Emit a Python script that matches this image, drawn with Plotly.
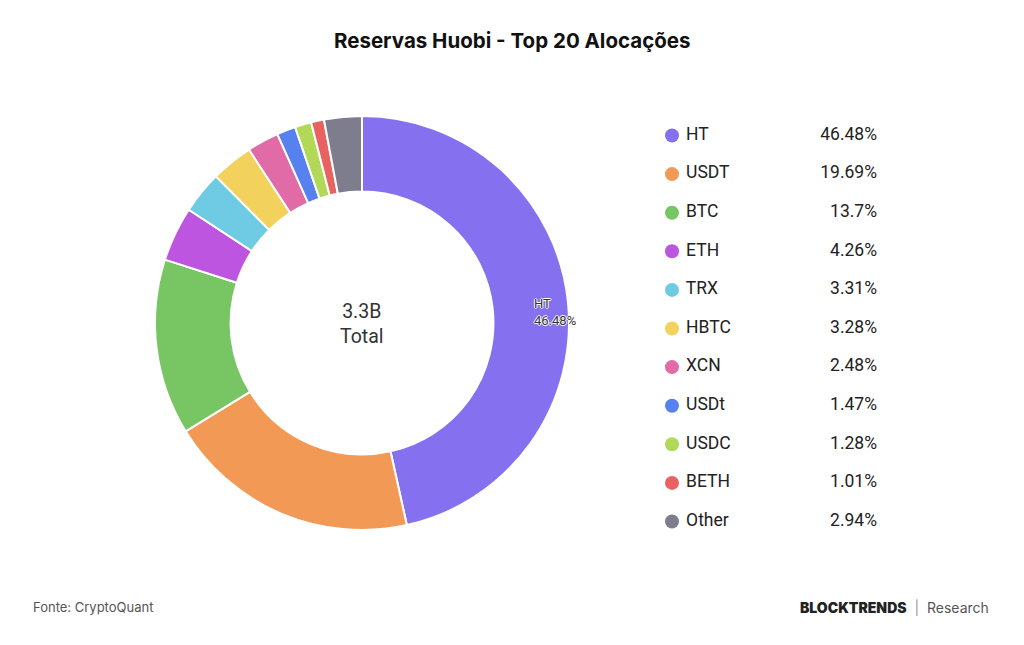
import plotly.graph_objects as go

labels = ["HT", "USDT", "BTC", "ETH", "TRX", "HBTC", "XCN", "USDt", "USDC", "BETH", "Other"]
values = [46.48, 19.69, 13.7, 4.26, 3.31, 3.28, 2.48, 1.47, 1.28, 1.01, 2.94]
pct_labels = ["46.48%", "19.69%", "13.7%", "4.26%", "3.31%", "3.28%", "2.48%", "1.47%", "1.28%", "1.01%", "2.94%"]
colors = ["#8571F0", "#F29A55", "#78C563", "#BE55E0", "#6FCBE4", "#F2D15C", "#E06BA7", "#5681EE", "#B1D857", "#E86262", "#7E7D8E"]
total_label = "3.3B"

W, H = 1024, 645
cx, cy, R = 362, 323, 207

fig = go.Figure()

fig.add_trace(go.Pie(
    labels=labels, values=values, sort=False, direction="clockwise", rotation=0,
    hole=0.635, marker=dict(colors=colors, line=dict(color="white", width=2)),
    textinfo="none", hoverinfo="label+percent", showlegend=False,
    domain=dict(x=[(cx - R) / W, (cx + R) / W], y=[(H - cy - R) / H, (H - cy + R) / H]),
))

# Custom legend built from data
idx = list(range(len(labels)))
fig.add_trace(go.Scatter(
    x=[672] * len(labels), y=idx, mode="markers+text",
    marker=dict(size=14, color=colors, line=dict(width=0)),
    text=[" " + l for l in labels], textposition="middle right",
    textfont=dict(family="Roboto", size=17.5, color="#222222"),
    xaxis="x2", yaxis="y2", showlegend=False, hoverinfo="skip", cliponaxis=False,
))
fig.add_trace(go.Scatter(
    x=[877] * len(labels), y=idx, mode="text",
    text=pct_labels, textposition="middle left",
    textfont=dict(family="Roboto", size=17.5, color="#222222"),
    xaxis="x2", yaxis="y2", showlegend=False, hoverinfo="skip", cliponaxis=False,
))

row0, step = 135.5, 38.6
fig.update_layout(
    width=W, height=H,
    margin=dict(l=0, r=0, t=0, b=0),
    paper_bgcolor="white", plot_bgcolor="rgba(0,0,0,0)",
    xaxis2=dict(domain=[0, 1], range=[0, W], visible=False, fixedrange=True),
    yaxis2=dict(domain=[0, 1], range=[(H - row0) / step, -row0 / step], visible=False, fixedrange=True),
    annotations=[
        dict(text="<b>Reservas Huobi - Top 20 Alocações</b>", x=0.5, y=1 - 40 / H, xref="paper", yref="paper",
             showarrow=False, font=dict(family="Inter", size=20.5, color="#111111"), xanchor="center", yanchor="middle"),
        dict(text=f"{total_label}<br>Total", x=cx / W, y=1 - 324 / H, xref="paper", yref="paper",
             showarrow=False, font=dict(family="Roboto", size=19.5, color="#333333"), xanchor="center", yanchor="middle"),
        dict(text=f"{labels[0]}<br>{pct_labels[0]}", x=532 / W, y=1 - 312 / H, xref="paper", yref="paper",
             showarrow=False, align="left", xanchor="left", yanchor="middle",
             font=dict(family="Roboto", size=13, color="#333333",
                       shadow="1px 0 0 white, -1px 0 0 white, 0 1px 0 white, 0 -1px 0 white")),
        dict(text="Fonte: CryptoQuant", x=31 / W, y=1 - 607 / H, xref="paper", yref="paper",
             showarrow=False, xanchor="left", yanchor="middle",
             font=dict(family="Inter", size=13, color="#555555")),
        dict(text="<span style='font-weight:900'>BLOCKTRENDS</span>  <span style='color:#999999'>|</span>  <span style='color:#555555'>Research</span>",
             x=991 / W, y=1 - 607 / H, xref="paper", yref="paper",
             showarrow=False, xanchor="right", yanchor="middle",
             font=dict(family="Inter", size=14, color="#222222")),
    ],
)

fig.write_html("out.html")
